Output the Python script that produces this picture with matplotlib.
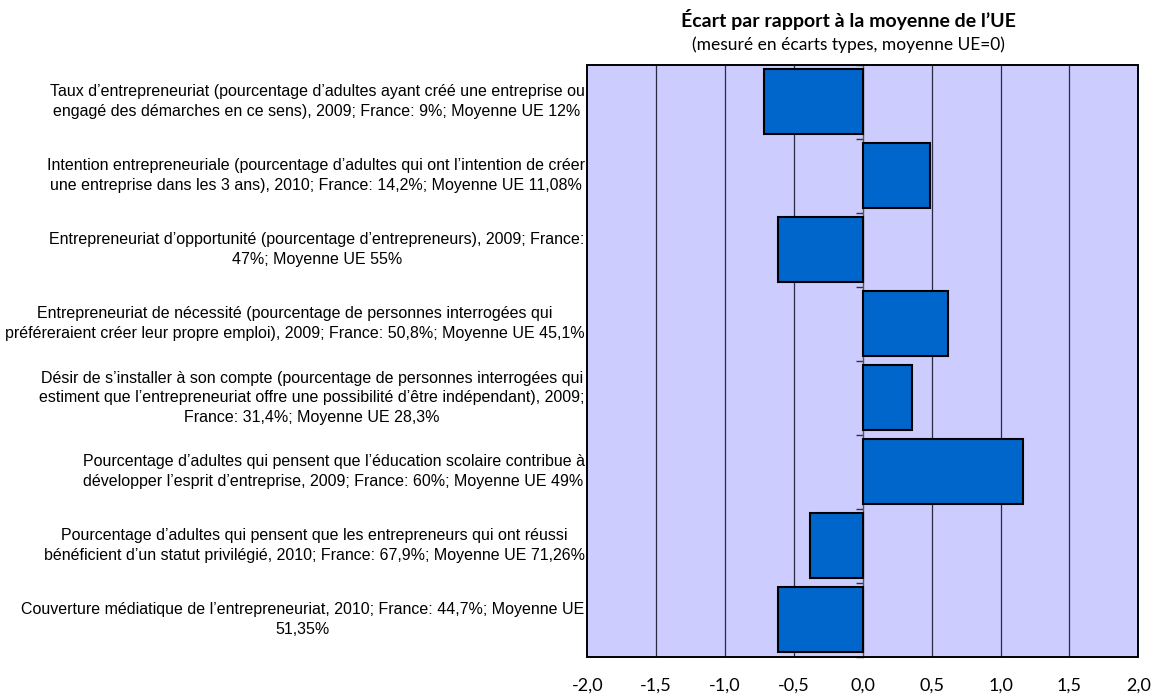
import numpy as np
import matplotlib
matplotlib.use("Agg")
import matplotlib.pyplot as plt
from matplotlib.patches import Rectangle

labels = [
    "Taux d\u2019entrepreneuriat (pourcentage d\u2019adultes ayant cr\u00e9\u00e9 une entreprise ou\nengag\u00e9 des d\u00e9marches en ce sens), 2009; France: 9%; Moyenne UE 12%",
    "Intention entrepreneuriale (pourcentage d\u2019adultes qui ont l\u2019intention de cr\u00e9er\nune entreprise dans les 3 ans), 2010; France: 14,2%; Moyenne UE 11,08%",
    "Entrepreneuriat d\u2019opportunit\u00e9 (pourcentage d\u2019entrepreneurs), 2009; France:\n47%; Moyenne UE 55%",
    "Entrepreneuriat de n\u00e9cessit\u00e9 (pourcentage de personnes interrog\u00e9es qui\npr\u00e9f\u00e9reraient cr\u00e9er leur propre emploi), 2009; France: 50,8%; Moyenne UE 45,1%",
    "D\u00e9sir de s\u2019installer \u00e0 son compte (pourcentage de personnes interrog\u00e9es qui\nestiment que l\u2019entrepreneuriat offre une possibilit\u00e9 d\u2019\u00eatre ind\u00e9pendant), 2009;\nFrance: 31,4%; Moyenne UE 28,3%",
    "Pourcentage d\u2019adultes qui pensent que l\u2019\u00e9ducation scolaire contribue \u00e0\nd\u00e9velopper l\u2019esprit d\u2019entreprise, 2009; France: 60%; Moyenne UE 49%",
    "Pourcentage d\u2019adultes qui pensent que les entrepreneurs qui ont r\u00e9ussi\nb\u00e9n\u00e9ficient d\u2019un statut privil\u00e9gi\u00e9, 2010; France: 67,9%; Moyenne UE 71,26%",
    "Couverture m\u00e9diatique de l\u2019entrepreneuriat, 2010; France: 44,7%; Moyenne UE\n51,35%",
]
ecart = [-0.72, 0.49, -0.615, 0.62, 0.36, 1.16, -0.385, -0.615]
xticks = [-2.0, -1.5, -1.0, -0.5, 0.0, 0.5, 1.0, 1.5, 2.0]
title = "\u00c9cart par rapport \u00e0 la moyenne de l\u2019UE"
subtitle = "(mesur\u00e9 en \u00e9carts types, moyenne UE=0)"

W, H = 1157, 698
fig = plt.figure(figsize=(W / 100, H / 100), dpi=100)
ax = fig.add_axes([587.3 / W, 1 - 656.7 / H, 551 / W, 592 / H])
ax.set_facecolor("#CCCCFF")

ys = np.arange(len(ecart))
ax.barh(ys, ecart, height=0.88, color="#0066CC", edgecolor="black", linewidth=1.5, zorder=3)

ax.set_xlim(-2, 2)
ax.set_ylim(len(ecart) - 0.5, -0.5)
for v in xticks[1:-1]:
    if v != 0:
        ax.axvline(v, color="#2a2a40", lw=0.9, zorder=1)

# category axis sits on x = 0, ticks between categories
ax.spines["left"].set_position(("data", 0))
ax.spines["left"].set_color("#555555")
ax.spines["left"].set_linewidth(1.0)
ax.spines["left"].set_zorder(2)
ax.set_yticks(np.arange(-0.5, len(ecart), 1))
ax.set_yticklabels([])
ax.tick_params(axis="y", length=5, width=1, color="#333333", direction="out")
for s in ["top", "right", "bottom"]:
    ax.spines[s].set_visible(False)
ax.add_patch(Rectangle((0, 0), 1, 1, transform=ax.transAxes, fill=False,
                       edgecolor="black", lw=1.4, zorder=5, clip_on=False))

ax.set_xticks(xticks)
ax.set_xticklabels([f"{v:.1f}".replace(".", ",") for v in xticks], family="Lato", fontsize=13)
ax.tick_params(axis="x", length=0, pad=15)

for y, lab in zip(ys, labels):
    ax.text(-2.02, y, lab, ha="right", va="center", multialignment="center",
            family="Liberation Sans", fontsize=11.5, linespacing=1.37)

fig.text(848 / W, 1 - 19 / H, title, ha="center", va="center", family="Lato",
         fontsize=14, fontweight="bold")
fig.text(848 / W, 1 - 45 / H, subtitle, ha="center", va="center", family="Lato",
         fontsize=12.5)

fig.savefig("out.png", dpi=100)
